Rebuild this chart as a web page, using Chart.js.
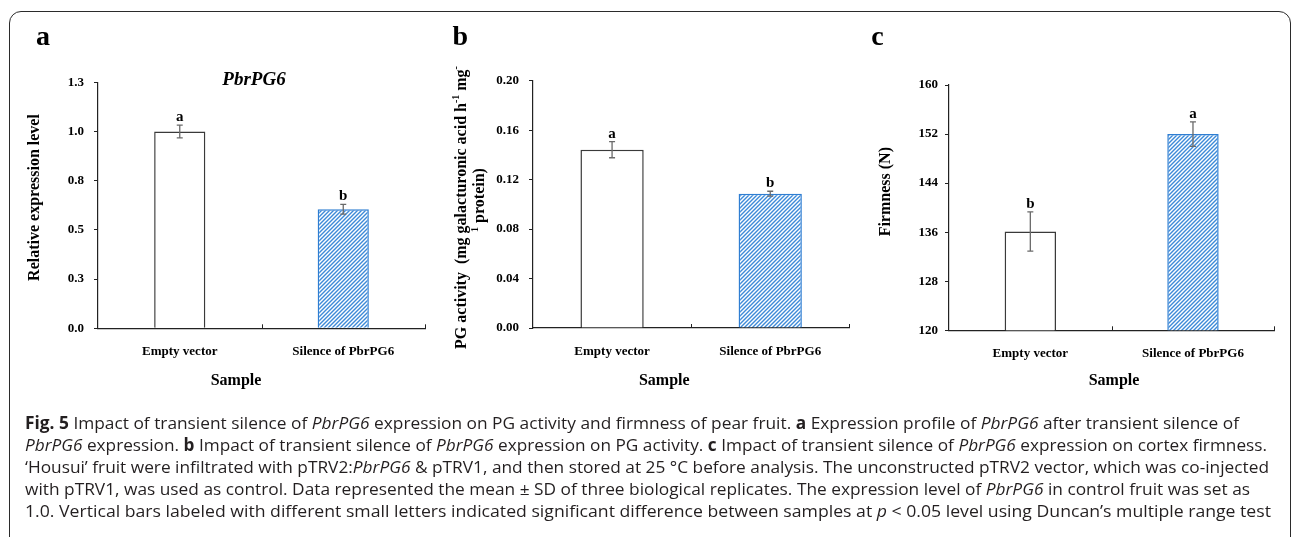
<!DOCTYPE html>
<html>
<head>
<meta charset="utf-8">
<script src="https://cdn.jsdelivr.net/npm/chart.js@4.4.1/dist/chart.umd.min.js"></script>
<style>
  body { margin: 0; background: #fff; }
  #page { position: relative; width: 1295px; height: 537px; overflow: hidden; background: #fff; }
  .frame { position: absolute; left: 9px; top: 11px; width: 1282px; height: 600px; box-sizing: border-box;
           border: 1.6px solid #2b2b2b; border-radius: 12px; }
  canvas.panel { position: absolute; left: 0; top: 0; }
  .cap { position: absolute; left: 25px; white-space: nowrap; font-family: "Open Sans", sans-serif; font-size: 17px;
         line-height: 22px; color: #231f20; transform-origin: 0 50%; display: inline-block; }
</style>
</head>
<body>
<div id="page">
  <div class="frame"></div>
  <canvas id="chartA" class="panel" width="1295" height="537"></canvas>
  <canvas id="chartB" class="panel" width="1295" height="537"></canvas>
  <canvas id="chartC" class="panel" width="1295" height="537"></canvas>
  <div class="cap" style="top:412px"><b>Fig. 5</b> Impact of transient silence of <i>PbrPG6</i> expression on PG activity and firmness of pear fruit. <b>a</b> Expression profile of <i>PbrPG6</i> after transient silence of</div>
  <div class="cap" style="top:434px"><i>PbrPG6</i> expression. <b>b</b> Impact of transient silence of <i>PbrPG6</i> expression on PG activity. <b>c</b> Impact of transient silence of <i>PbrPG6</i> expression on cortex firmness.</div>
  <div class="cap" style="top:456px">‘Housui’ fruit were infiltrated with pTRV2:<i>PbrPG6</i> &amp; pTRV1, and then stored at 25 °C before analysis. The unconstructed pTRV2 vector, which was co-injected</div>
  <div class="cap" style="top:478px">with pTRV1, was used as control. Data represented the mean ± SD of three biological replicates. The expression level of <i>PbrPG6</i> in control fruit was set as</div>
  <div class="cap" style="top:500px">1.0. Vertical bars labeled with different small letters indicated significant difference between samples at <i>p</i> &lt; 0.05 level using Duncan’s multiple range test</div>
</div>
<script>
const categories = ['Empty vector', 'Silence of PbrPG6'];

// a: relative expression
const expressionMeans = [1.0, 0.605];
const expressionSD = [0.032, 0.025];
const expressionLetters = ['a', 'b'];
const expressionAxis = [0, 1.25, 0.25];

// b: PG activity
const pgMeans = [0.1442, 0.1086];
const pgSD = [0.0065, 0.002];
const pgLetters = ['a', 'b'];
const pgAxis = [0, 0.2, 0.04];

// c: firmness
const firmMeans = [136.1, 152.0];
const firmSD = [3.2, 2.0];
const firmLetters = ['b', 'a'];
const firmAxis = [120, 160, 8];

const captionEnds = [1239, 1267, 1269, 1250, 1271];

const SERIF = '"Liberation Serif", "Times New Roman", serif';
const AXIS = '#222';

Chart.defaults.font.family = SERIF;
Chart.defaults.color = '#000';

function hatch(ctx) {
  const c = document.createElement('canvas');
  c.width = 4; c.height = 4;
  const g = c.getContext('2d');
  g.fillStyle = '#fff';
  g.fillRect(0, 0, 4, 4);
  g.strokeStyle = '#3d8ad8';
  g.lineWidth = 1.4;
  g.beginPath();
  g.moveTo(0, 4); g.lineTo(4, 0);
  g.moveTo(-1, 1); g.lineTo(1, -1);
  g.moveTo(3, 5); g.lineTo(5, 3);
  g.stroke();
  return ctx.createPattern(c, 'repeat');
}

// error bars + significance letters
const errorBars = {
  id: 'errorBars',
  afterDatasetsDraw(chart, args, opts) {
    const { ctx } = chart;
    const y = chart.scales.y;
    const meta = chart.getDatasetMeta(0);
    const vals = chart.data.datasets[0].data;
    ctx.save();
    meta.data.forEach((bar, i) => {
      const top = y.getPixelForValue(vals[i] + opts.sd[i]);
      const bot = y.getPixelForValue(vals[i] - opts.sd[i]);
      ctx.strokeStyle = '#6a6a6a';
      ctx.lineWidth = 1.3;
      ctx.beginPath();
      ctx.moveTo(bar.x, top); ctx.lineTo(bar.x, bot);
      ctx.moveTo(bar.x - 3, top); ctx.lineTo(bar.x + 3, top);
      ctx.moveTo(bar.x - 3, bot); ctx.lineTo(bar.x + 3, bot);
      ctx.stroke();
      ctx.fillStyle = '#000';
      ctx.font = 'bold 15px ' + SERIF;
      ctx.textAlign = 'center';
      ctx.textBaseline = 'alphabetic';
      ctx.fillText(opts.letters[i], bar.x, top - 4);
    });
    ctx.restore();
  }
};

// texts around the plot and the small upward ticks on the x axis
function drawRuns(ctx, runs, x, y, rotate) {
  let total = 0;
  runs.forEach(r => {
    ctx.font = r.sup ? 'bold 10px ' + SERIF : 'bold 16px ' + SERIF;
    total += ctx.measureText(r.t).width;
  });
  ctx.save();
  ctx.translate(x, y);
  if (rotate) ctx.rotate(-Math.PI / 2);
  let cx = -total / 2;
  runs.forEach(r => {
    ctx.font = r.sup ? 'bold 10px ' + SERIF : 'bold 16px ' + SERIF;
    ctx.fillText(r.t, cx, r.sup ? -5 : 0);
    cx += ctx.measureText(r.t).width;
  });
  ctx.restore();
}

const decor = {
  id: 'decor',
  afterDraw(chart, args, opts) {
    const { ctx } = chart;
    const xs = chart.scales.x;
    const b = chart.chartArea.bottom;
    ctx.save();
    ctx.strokeStyle = AXIS;
    ctx.lineWidth = 1;
    const mid = (xs.getPixelForValue(0) + xs.getPixelForValue(1)) / 2;
    [mid, xs.right].forEach(px => {
      ctx.beginPath();
      ctx.moveTo(Math.round(px) + 0.5, b);
      ctx.lineTo(Math.round(px) + 0.5, b - 4);
      ctx.stroke();
    });
    ctx.fillStyle = '#000';
    ctx.textAlign = 'left';
    ctx.textBaseline = 'middle';
    opts.yTitle.forEach(line => drawRuns(ctx, line.runs, line.x, line.y, true));
    drawRuns(ctx, [{ t: 'Sample' }], opts.xTitle[0], opts.xTitle[1], false);
    ctx.textAlign = 'center';
    ctx.font = 'bold 28px ' + SERIF;
    ctx.fillText(opts.letter[0], opts.letter[1], opts.letter[2]);
    if (opts.heading) {
      ctx.font = 'italic bold 19px ' + SERIF;
      ctx.fillText(opts.heading[0], opts.heading[1], opts.heading[2]);
    }
    ctx.restore();
  }
};

function makeChart(id, means, sd, letters, axis, fmt, area, barPct, texts, tickPad) {
  const canvas = document.getElementById(id);
  const ctx = canvas.getContext('2d');
  const yW = 70, xH = 40;
  return new Chart(ctx, {
    type: 'bar',
    data: {
      labels: categories,
      datasets: [{
        data: means,
        backgroundColor: ['#ffffff', hatch(ctx)],
        borderColor: ['#3a3a3a', '#2f7ed2'],
        borderWidth: 1.5,
        barPercentage: barPct,
        categoryPercentage: 1
      }]
    },
    options: {
      responsive: false,
      animation: false,
      devicePixelRatio: 1,
      layout: {
        padding: { left: area.L - yW, right: 1295 - area.R, top: area.T, bottom: 537 - area.B - xH }
      },
      plugins: {
        legend: { display: false },
        tooltip: { enabled: false },
        errorBars: { sd: sd, letters: letters },
        decor: texts
      },
      scales: {
        x: {
          afterFit: s => { s.height = xH; },
          grid: { display: false },
          border: { display: true, color: AXIS, width: 1.2 },
          ticks: { font: { size: 13, weight: 'bold' }, color: '#000', padding: 8, maxRotation: 0, autoSkip: false }
        },
        y: {
          min: axis[0], max: axis[1],
          afterFit: s => { s.width = yW; },
          grid: { display: true, drawOnChartArea: false, drawTicks: true, tickLength: 4, color: AXIS },
          border: { display: true, color: AXIS, width: 1.2 },
          ticks: { stepSize: axis[2], font: { size: 13, weight: 'bold' }, color: '#000', padding: tickPad,
                   callback: v => fmt(v) }
        }
      }
    },
    plugins: [errorBars, decor]
  });
}

makeChart('chartA', expressionMeans, expressionSD, expressionLetters, expressionAxis, v => v.toFixed(1),
  { L: 98, R: 425, T: 82.3, B: 328.3 }, 0.313,
  {
    yTitle: [{ runs: [{ t: 'Relative expression level' }], x: 35, y: 197.5 }],
    xTitle: [236, 380.7],
    letter: ['a', 43, 38],
    heading: ['PbrPG6', 254, 80]
  }, 10);

makeChart('chartB', pgMeans, pgSD, pgLetters, pgAxis, v => v.toFixed(2),
  { L: 533, R: 849.3, T: 80.7, B: 328 }, 0.40,
  {
    yTitle: [
      { runs: [{ t: 'PG activity  (mg galacturonic acid h' }, { t: '-1', sup: true }, { t: ' mg' }, { t: '-', sup: true }], x: 461.7, y: 207.5 },
      { runs: [{ t: '1', sup: true }, { t: ' protein)' }], x: 480, y: 200 }
    ],
    xTitle: [664.3, 380.7],
    letter: ['b', 460.3, 38]
  }, 10);

makeChart('chartC', firmMeans, firmSD, firmLetters, firmAxis, v => String(Math.round(v)),
  { L: 949, R: 1274.3, T: 85, B: 330.3 }, 0.316,
  {
    yTitle: [{ runs: [{ t: 'Firmness (N)' }], x: 886, y: 191.7 }],
    xTitle: [1114, 380.7],
    letter: ['c', 877.5, 38]
  }, 7);

function fitCaption() {
  document.querySelectorAll('.cap').forEach((el, i) => {
    el.style.transform = 'none';
    const w = el.getBoundingClientRect().width;
    el.style.transform = 'scaleX(' + ((captionEnds[i] - 25) / w) + ')';
  });
}
fitCaption();
if (document.fonts && document.fonts.ready) document.fonts.ready.then(fitCaption);
</script>
</body>
</html>
